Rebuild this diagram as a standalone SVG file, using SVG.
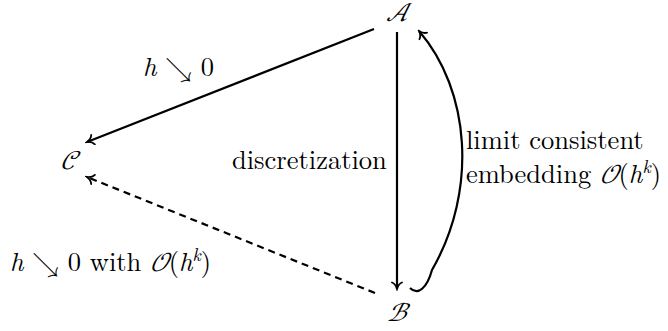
<svg xmlns="http://www.w3.org/2000/svg" width="668" height="331" viewBox="0 0 668 331">
<defs>
<marker id="to" viewBox="-8 -6 10 12" markerWidth="10" markerHeight="12" refX="0" refY="0" orient="auto" markerUnits="userSpaceOnUse">
<path d="M -6.5,-5 C -5.5,-2.5 -2,-0.6 0,0 C -2,0.6 -5.5,2.5 -6.5,5" fill="none" stroke="#000" stroke-width="1.8" stroke-linecap="round"/>
</marker>
</defs>
<style>
.t{font-family:"Latin Modern Roman","CMU Serif","Liberation Serif","Times New Roman",serif;font-size:26.5px;fill:#000}
.c{font-family:"Latin Modern Math","STIX Two Math","DejaVu Serif",serif;font-style:italic;font-size:26px;fill:#000}
.s{font-family:"Latin Modern Math","STIX Two Math","DejaVu Serif",serif;font-style:italic}
.i{font-style:italic}
.a{font-family:"Latin Modern Math","DejaVu Sans",sans-serif}
.e{fill:none;stroke:#000;stroke-width:2.2}
</style>
<g id="connectors">
<line class="e" x1="374" y1="29" x2="87" y2="142" marker-end="url(#to)"/>
<line class="e" x1="375" y1="293" x2="87" y2="177" stroke-dasharray="7,5" marker-end="url(#to)"/>
<line class="e" x1="397" y1="32" x2="397" y2="289" marker-end="url(#to)"/>
<path class="e" d="M 410 288 C 418 296 427 288 432 270 C 478 190 470 90 419 31" marker-end="url(#to)"/>
</g>
<g id="A"><text class="c" x="397" y="21" text-anchor="middle">𝒜</text></g>
<g id="B"><text class="c" x="397" y="321" text-anchor="middle">ℬ</text></g>
<g id="C"><text class="c" x="69" y="169" text-anchor="middle">𝒞</text></g>
<g id="labels">
<text class="t" x="143" y="76"><tspan class="i">h</tspan> <tspan class="a">↘</tspan> 0</text>
<text class="t" x="232" y="169">discretization</text>
<text class="t" x="466" y="149">limit consistent</text>
<text class="t" x="466" y="183">embedding <tspan class="s">𝒪</tspan>(<tspan class="i">h</tspan><tspan class="i" font-size="18" dy="-10">k</tspan><tspan dy="10">)</tspan></text>
<text class="t" x="10" y="271"><tspan class="i">h</tspan> <tspan class="a">↘</tspan> 0 with <tspan class="s">𝒪</tspan>(<tspan class="i">h</tspan><tspan class="i" font-size="18" dy="-10">k</tspan><tspan dy="10">)</tspan></text>
</g>
</svg>
